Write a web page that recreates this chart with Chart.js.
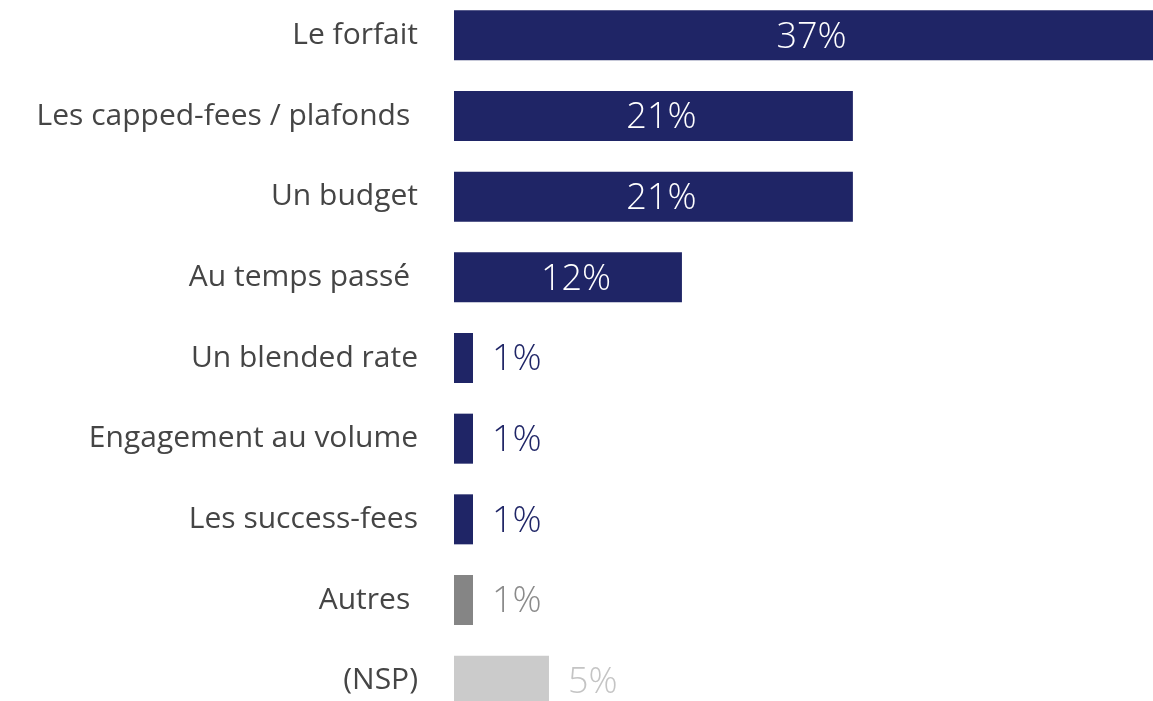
<!DOCTYPE html>
<html lang="fr">
<head>
<meta charset="utf-8">
<title>Modes de facturation</title>
<script src="https://cdn.jsdelivr.net/npm/chart.js@4"></script>
<style>
  html, body { margin: 0; padding: 0; background: #fff; overflow: hidden; }
  #wrap { position: absolute; left: 0; top: -5px; width: 1153px; height: 726px; }
</style>
</head>
<body>
<div id="wrap"><canvas id="chart"></canvas></div>
<script>
// Modes de facturation — barres horizontales (Chart.js)

const categories = [
  "Le forfait",
  "Les capped-fees / plafonds ",
  "Un budget",
  "Au temps passé ",
  "Un blended rate",
  "Engagement au volume",
  "Les success-fees",
  "Autres ",
  "(NSP)",
];
const valeurs = [37, 21, 21, 12, 1, 1, 1, 1, 5];

const NAVY = "#1f2566";
const barColors = [NAVY, NAVY, NAVY, NAVY, NAVY, NAVY, NAVY, "#858585", "#cbcbcb"];
const labelColors = ["#fff", "#fff", "#fff", "#fff", NAVY, NAVY, NAVY, "#8a8a8a", "#c4c4c4"];

const FONT = "'Open Sans', 'Noto Sans', sans-serif";

// étiquettes de valeur : dans la barre si assez large, sinon juste après
const valueLabels = {
  id: "valueLabels",
  afterDatasetsDraw(chart) {
    const { ctx, chartArea } = chart;
    const meta = chart.getDatasetMeta(0);
    ctx.save();
    ctx.font = `300 36px ${FONT}`;
    ctx.textBaseline = "middle";
    meta.data.forEach((bar, i) => {
      const v = valeurs[i];
      const txt = v + "%";
      const end = Math.min(bar.x, chartArea.right);
      ctx.fillStyle = labelColors[i];
      if (v >= 10) {
        ctx.textAlign = "center";
        ctx.fillText(txt, (bar.base + end) / 2 + 8, bar.y + 2);
      } else {
        ctx.textAlign = "left";
        ctx.fillText(txt, end + 19, bar.y + 2);
      }
    });
    ctx.restore();
  },
};

new Chart(document.getElementById("chart"), {
  type: "bar",
  data: {
    labels: categories,
    datasets: [{
      data: valeurs,
      backgroundColor: barColors,
      borderWidth: 0,
      barPercentage: 0.62,
      categoryPercentage: 1,
    }],
  },
  options: {
    indexAxis: "y",
    responsive: true,
    maintainAspectRatio: false,
    animation: false,
    layout: { padding: 0 },
    plugins: { legend: { display: false }, tooltip: { enabled: false } },
    scales: {
      x: { min: 0, max: 36.8, display: false },
      y: {
        grid: { display: false, drawTicks: false },
        border: { display: false },
        ticks: { color: "#454545", padding: 36, font: { family: FONT, size: 30, weight: "normal" } },
        afterFit(scale) {
          scale.width = 454;
          scale.paddingTop = 0;
          scale.paddingBottom = 0;
        },
      },
    },
  },
  plugins: [valueLabels],
});
</script>
</body>
</html>
